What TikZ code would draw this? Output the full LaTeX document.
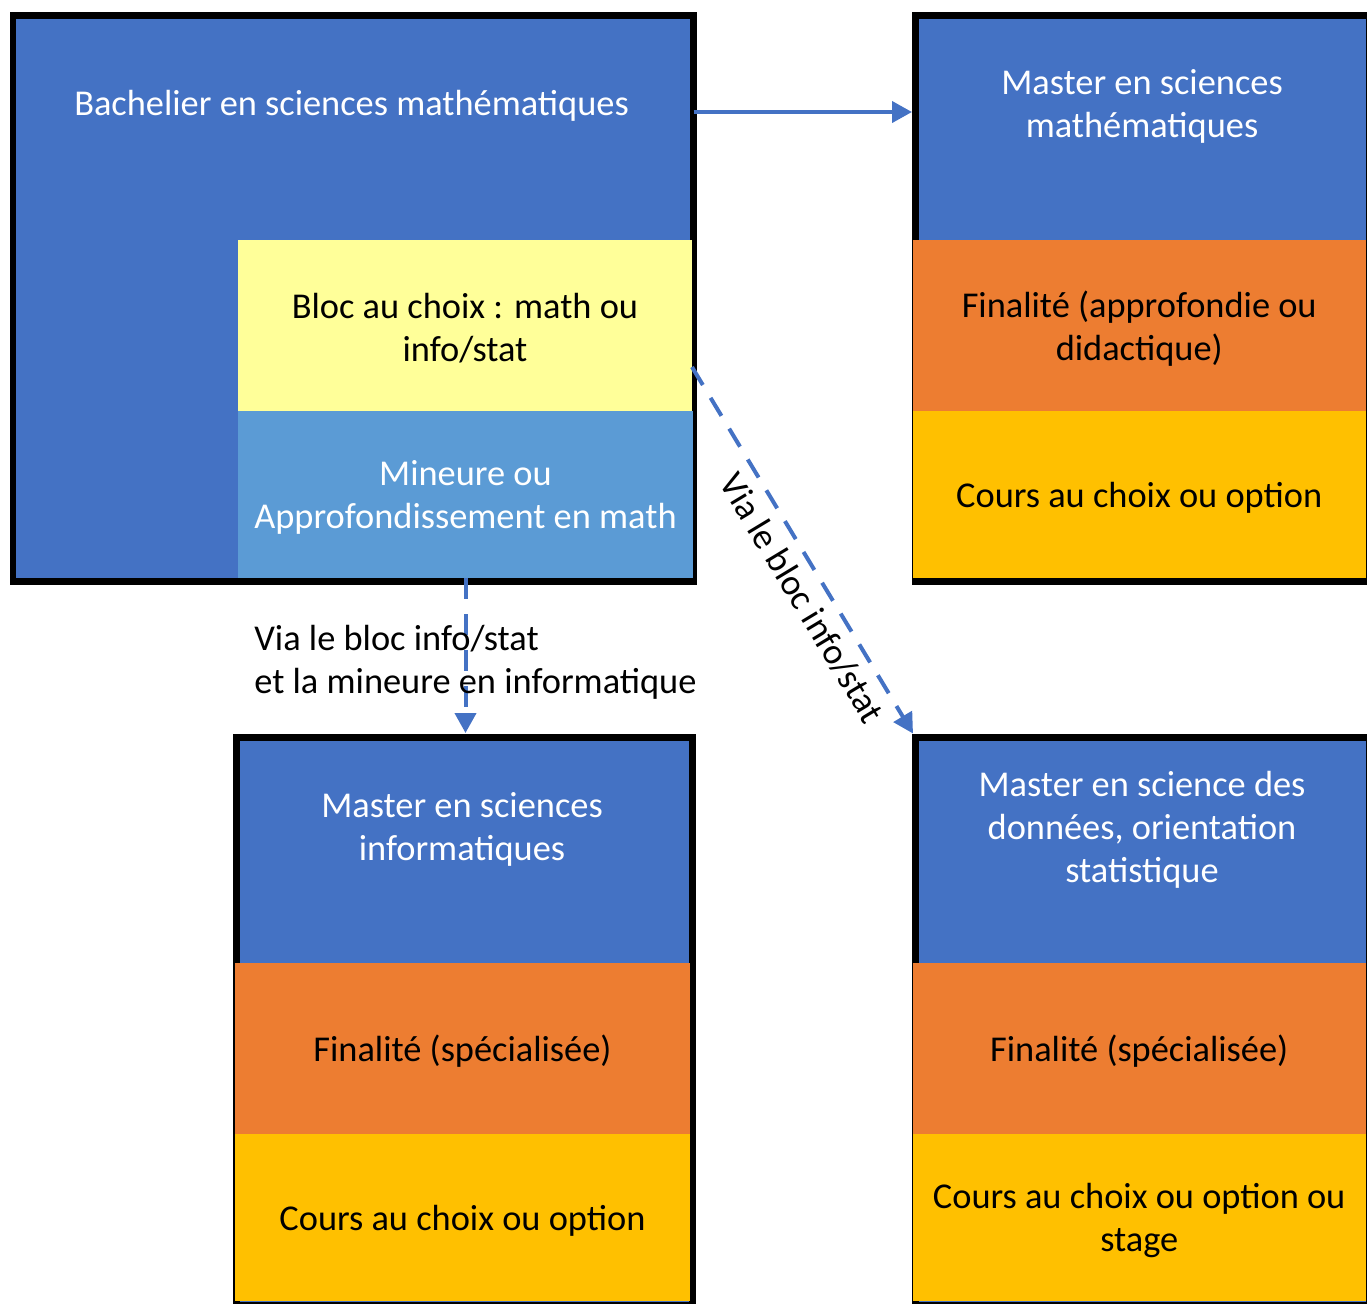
\documentclass[tikz,border=0pt]{standalone}
\usepackage{fontspec}
\setmainfont{Carlito}
\usetikzlibrary{arrows.meta,calc}
\definecolor{cblue}{HTML}{4472C4}
\definecolor{cyellow}{HTML}{FFFF99}
\definecolor{clblue}{HTML}{5B9BD5}
\definecolor{corange}{HTML}{ED7D31}
\definecolor{cgold}{HTML}{FFC000}
\begin{document}
\begin{tikzpicture}[x=0.02cm,y=-0.02cm,
  region/.style 2 args={minimum width=#1*0.02cm, minimum height=#2*0.02cm, inner sep=0pt, outer sep=0pt, anchor=north west, draw=none},
  frame/.style={draw=black, line width=0.14cm, fill=cblue},
  basetxt/.style={font=\fontsize{20.7}{24.5}\selectfont, align=center, inner sep=0pt},
  txt/.style={basetxt, yshift=-0.06cm},
  solidarr/.style={draw=cblue, line width=0.08cm, -{Triangle[length=0.4cm,width=0.42cm]}},
  dasharr/.style={draw=cblue, line width=0.08cm, dash pattern=on 0.42cm off 0.3cm, -{Triangle[length=0.4cm,width=0.42cm]}}
]
\useasboundingbox (0,0) rectangle (1367,1303);

% outer frames
\node[region={680.5}{566.5}, frame] (bach) at (13,15) {};
\node[region={454}{566.5}, frame] (mm) at (915,15) {};
\node[region={456.5}{567.5}, frame] (mi) at (236,737.5) {};
\node[region={454}{567.5}, frame] (md) at (915,737.5) {};

% bachelor sub-blocks
\node[region={454}{171}, fill=cyellow] (bloc) at (238,240) {};
\node[region={455}{167}, fill=clblue] (mineure) at (238,411) {};
% master math
\node[region={452.5}{171}, fill=corange] (mmfin) at (913,240) {};
\node[region={452.5}{167}, fill=cgold] (mmcours) at (913,411) {};
% master info
\node[region={455}{171}, fill=corange] (mifin) at (235,963) {};
\node[region={455}{167}, fill=cgold] (micours) at (235,1134) {};
% master data
\node[region={452.5}{171}, fill=corange] (mdfin) at (913,963) {};
\node[region={452.5}{167}, fill=cgold] (mdcours) at (913,1134) {};

% block texts
\node[txt, text=black] (blocT) at (bloc.center) {Bloc au choix : math ou\\info/stat};
\node[txt, text=white] (mineureT) at (mineure.center) {Mineure ou\\Approfondissement en math};
\node[txt, text=black] (mmfinT) at (mmfin.center) {Finalité (approfondie ou\\didactique)};
\node[txt, text=black] (mmcoursT) at (mmcours.center) {Cours au choix ou option};
\node[txt, text=black] (mifinT) at (mifin.center) {Finalité (spécialisée)};
\node[txt, text=black] (micoursT) at (micours.center) {Cours au choix ou option};
\node[txt, text=black] (mdfinT) at (mdfin.center) {Finalité (spécialisée)};
\node[txt, text=black] (mdcoursT) at (mdcours.center) {Cours au choix ou option ou\\stage};

% titles
\node[txt, text=white] (bachT) at (351.5,103) {Bachelier en sciences mathématiques};
\node[txt, text=white] (mmT) at (1142,103.5) {Master en sciences\\mathématiques};
\node[txt, text=white] (miT) at (462,826.5) {Master en sciences\\informatiques};
\node[txt, text=white] (mdT) at (1142,826.5) {Master en science des\\données, orientation\\statistique};

% connectors
\coordinate (h1) at (693.5,112);
\draw[solidarr, shorten >=0.06cm] (h1) -- (h1 -| mm.west);

\draw[dasharr, shorten >=0.09cm] (mineure.south) -- (mineure.south |- mi.north);

\coordinate (d1) at (692,367);
\draw[dasharr] (d1) -- ($(md.north west)+(-2,-4)$);

% labels
\node[txt, align=left, anchor=west, text=black] (lab1) at (254,659) {Via le bloc info/stat\\et la mineure en informatique};
\node[basetxt, text=black, rotate=-58.9] (lab2) at (802,598) {Via le bloc info/stat};
\end{tikzpicture}
\end{document}
